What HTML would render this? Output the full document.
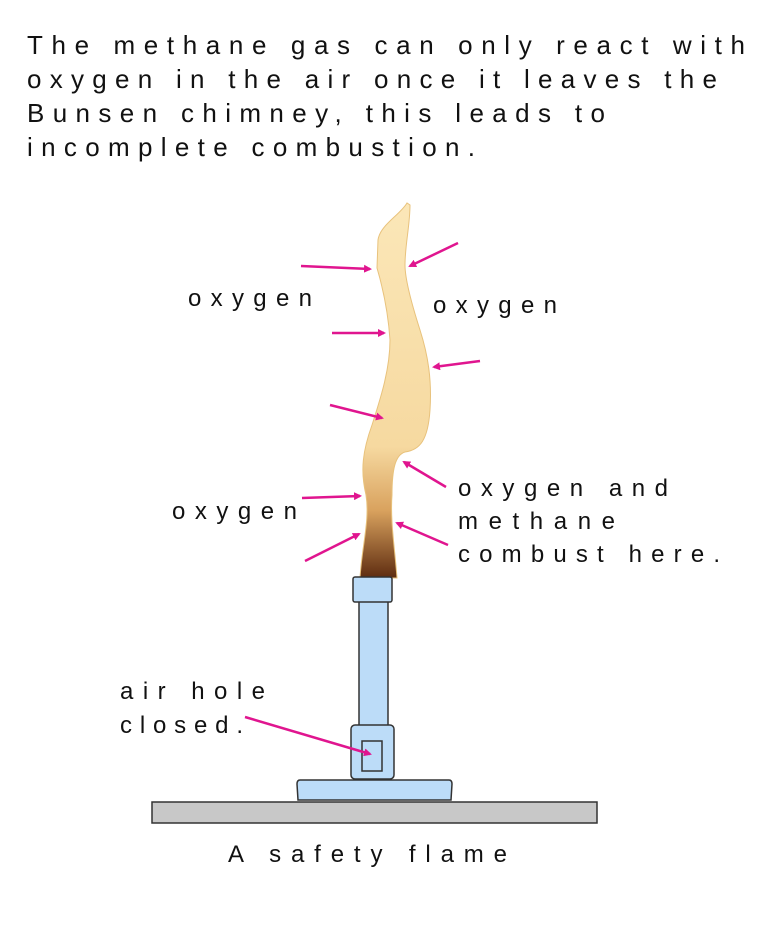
<!DOCTYPE html>
<html><head><meta charset="utf-8"><style>
html,body{margin:0;padding:0;background:#fff;}
svg{display:block}
text{font-family:"Liberation Sans","DejaVu Sans",sans-serif;fill:#111;}
</style></head><body>
<svg width="768" height="928" viewBox="0 0 768 928" xmlns="http://www.w3.org/2000/svg">
<defs>
<linearGradient id="fl" x1="0" y1="0" x2="0" y2="1">
<stop offset="0" stop-color="#fbe7b8"/>
<stop offset="0.65" stop-color="#f6d9a0"/>
<stop offset="0.82" stop-color="#d9a25e"/>
<stop offset="1" stop-color="#5e2c10"/>
</linearGradient>
<marker id="ah" markerWidth="8" markerHeight="8" refX="6" refY="4" orient="auto" markerUnits="userSpaceOnUse">
<path d="M0,0 L8,4 L0,8 Z" fill="#e0158f"/>
</marker>
</defs>
<g font-size="26">
<text x="27" y="54" textLength="718" lengthAdjust="spacing">The methane gas can only react with</text>
<text x="27" y="88" textLength="690" lengthAdjust="spacing">oxygen in the air once it leaves the</text>
<text x="27" y="122" textLength="578" lengthAdjust="spacing">Bunsen chimney, this leads to</text>
<text x="27" y="156" textLength="448" lengthAdjust="spacing">incomplete combustion.</text>
</g>
<path d="M407,203 C400,215 380,225 378,240 L377,268 C382,285 388,310 390,340 C390,370 380,400 372,425 C363,450 360,470 366,495 C370,520 362,545 360,578 L397,578 C395,550 390,520 392,495 C392,470 395,455 405,452 C420,450 428,440 430,410 C432,380 428,355 420,330 C412,305 405,280 405,265 C405,245 410,225 410,205 Z" fill="url(#fl)" stroke="#e8c27c" stroke-width="1"/>
<g font-size="24">
<text x="188" y="306" textLength="124" lengthAdjust="spacing">oxygen</text>
<text x="433" y="313" textLength="124" lengthAdjust="spacing">oxygen</text>
<text x="172" y="519" textLength="125" lengthAdjust="spacing">oxygen</text>
<text x="458" y="496" textLength="210" lengthAdjust="spacing">oxygen and</text>
<text x="458" y="529" textLength="157" lengthAdjust="spacing">methane</text>
<text x="458" y="562" textLength="262" lengthAdjust="spacing">combust here.</text>
<text x="120" y="699" textLength="145" lengthAdjust="spacing">air hole</text>
<text x="120" y="733" textLength="123" lengthAdjust="spacing">closed.</text>
<text x="228" y="862" textLength="279" lengthAdjust="spacing">A safety flame</text>
</g>
<g fill="#bcdcf8" stroke="#333" stroke-width="1.5">
<rect x="359" y="601" width="29" height="126"/>
<rect x="353" y="577" width="39" height="25" rx="2"/>
<path d="M300,780 L449,780 Q452,780 452,784 L451,800 L298,800 L297,784 Q297,780 300,780 Z"/>
<rect x="351" y="725" width="43" height="54" rx="4"/>
<rect x="362" y="741" width="20" height="30" fill="#bcdcf8"/>
<rect x="152" y="802" width="445" height="21" fill="#c8c8c8"/>
</g>
<g stroke="#e0158f" stroke-width="2.5" marker-end="url(#ah)">
<line x1="301" y1="266" x2="370" y2="269"/>
<line x1="458" y1="243" x2="410" y2="266"/>
<line x1="332" y1="333" x2="384" y2="333"/>
<line x1="480" y1="361" x2="434" y2="367"/>
<line x1="330" y1="405" x2="382" y2="418"/>
<line x1="446" y1="487" x2="404" y2="462"/>
<line x1="302" y1="498" x2="360" y2="496"/>
<line x1="305" y1="561" x2="359" y2="534"/>
<line x1="448" y1="545" x2="397" y2="523"/>
<line x1="245" y1="717" x2="370" y2="754"/>
</g>
</svg>
</body></html>
